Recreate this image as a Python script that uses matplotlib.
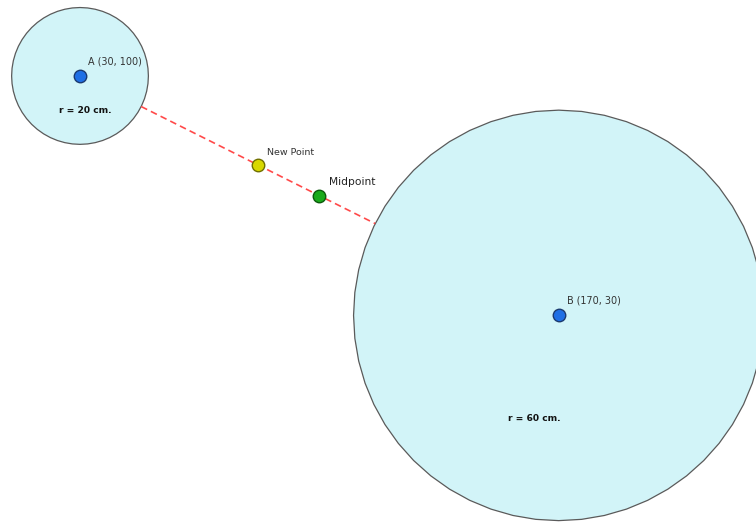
import numpy as np
import matplotlib

matplotlib.use("Agg")
import matplotlib.pyplot as plt
from matplotlib.patches import CirclePolygon

# circle data
names = ["A", "B"]
centers_x = [30, 170]
centers_y = [100, 30]
radii = [20, 60]

FILL = "#D2F4F8"
EDGE = "#5A5A5A"

cx = np.array(centers_x, dtype=float)
cy = np.array(centers_y, dtype=float)
r = np.array(radii, dtype=float)

# edge-to-edge segment along the line of centres
d = np.array([cx[1] - cx[0], cy[1] - cy[0]])
u = d / np.hypot(*d)
p_start = np.array([cx[0], cy[0]]) + u * r[0]
p_end = np.array([cx[1], cy[1]]) - u * r[1]
new_point = (p_start + p_end) / 2
midpoint = np.array([(cx[0] + cx[1]) / 2, (cy[0] + cy[1]) / 2])

fig = plt.figure(figsize=(7.56, 5.22), dpi=100)
ax = fig.add_axes([0, 0, 1, 1])
ax.set_xlim(6.6, 227.7)
ax.set_ylim(-30.4, 122.2)
ax.axis("off")

for i in range(len(names)):
    ax.add_patch(CirclePolygon((cx[i], cy[i]), r[i], resolution=56,
                               facecolor=FILL, edgecolor=EDGE, linewidth=0.9, zorder=1))

ax.plot([p_start[0], p_end[0]], [p_start[1], p_end[1]], color="#FF4A4A",
        linestyle=(0, (4, 2.5)), linewidth=1.2, zorder=2)

for i in range(len(names)):
    ax.plot(cx[i], cy[i], "o", markersize=9, markerfacecolor="#1F6FE5",
            markeredgecolor="#1B3A70", markeredgewidth=1.0, zorder=3)
    ax.annotate(f"{names[i]} ({int(centers_x[i])}, {int(centers_y[i])})", (cx[i], cy[i]),
                xytext=(6, 7), textcoords="offset points", fontsize=6.9,
                color="#333333", va="bottom", ha="left")

ax.text(cx[0] + 1.5, cy[0] - r[0] / 2, f"r = {radii[0]} cm.", fontsize=6.6,
        fontweight="bold", ha="center", va="center", color="#111111")
ax.text(cx[1] - 7, cy[1] - r[1] / 2, f"r = {radii[1]} cm.", fontsize=6.6,
        fontweight="bold", ha="center", va="center", color="#111111")

ax.plot(*new_point, "o", markersize=9, markerfacecolor="#D8D800",
        markeredgecolor="#707000", markeredgewidth=1.0, zorder=3)
ax.annotate("New Point", new_point, xytext=(6, 6), textcoords="offset points",
            fontsize=6.8, color="#333333", va="bottom", ha="left")

ax.plot(*midpoint, "o", markersize=9, markerfacecolor="#1BAA1B",
        markeredgecolor="#0C5A0C", markeredgewidth=1.0, zorder=3)
ax.annotate("Midpoint", midpoint, xytext=(7, 6), textcoords="offset points",
            fontsize=7.7, color="#222222", va="bottom", ha="left")

fig.savefig("out.png", dpi=100, facecolor="white")
plt.close(fig)
